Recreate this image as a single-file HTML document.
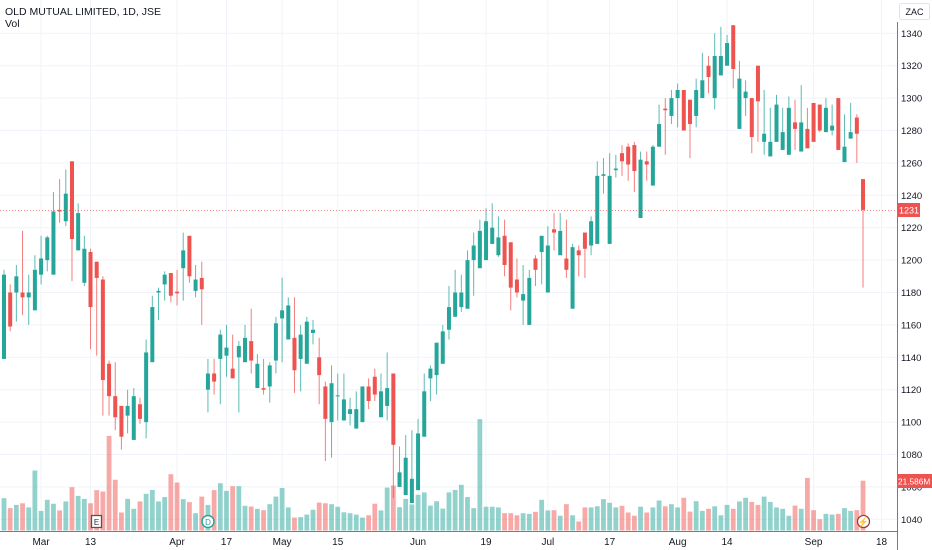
<!DOCTYPE html>
<html><head><meta charset="utf-8">
<style>
body{margin:0;background:#fff;font-family:"Liberation Sans",sans-serif;}
#wrap{position:relative;width:932px;height:550px;overflow:hidden;}
svg text{font-family:"Liberation Sans",sans-serif;}
</style></head>
<body>
<div id="wrap">
<svg id="chart" width="932" height="550" xmlns="http://www.w3.org/2000/svg">
  <g id="grid"></g>
  <g id="vol"></g>
  <g id="candles"></g>
  <line x1="0" x2="897" y1="210.5" y2="210.5" stroke="#ef5350" stroke-width="1" stroke-dasharray="1,2" opacity="0.7"/>
  <rect x="897" y="0" width="35" height="550" fill="#fff"/>
  <line x1="897.5" x2="897.5" y1="22" y2="550" stroke="#787b86" stroke-width="1"/>
  <line x1="0" x2="897" y1="531.5" y2="531.5" stroke="#787b86" stroke-width="1"/>
  <g id="yaxis"></g>
  <g id="xaxis"></g>
  <rect x="899.5" y="3.5" width="30" height="16" rx="2" fill="#fff" stroke="#e0e3eb"/>
  <text x="914.5" y="15" font-size="9" text-anchor="middle" fill="#131722">ZAC</text>
  <rect x="897" y="203" width="23" height="14" fill="#ef5350"/>
  <text x="899" y="213.5" font-size="9" fill="#fff">1231</text>
  <rect x="897" y="474" width="35" height="14" fill="#ef5350"/>
  <text x="898" y="484.5" font-size="8.3" fill="#fff">21.586M</text>
  <text x="5" y="15" font-size="10.5" fill="#131722">OLD MUTUAL LIMITED, 1D, JSE</text>
  <text x="5" y="27" font-size="10.5" fill="#131722">Vol</text>
  <g>
    <rect x="91.5" y="515.5" width="10" height="12" fill="#fff" stroke="#555" stroke-width="1.3"/>
    <text x="96.5" y="525" font-size="8" text-anchor="middle" fill="#333">E</text>
  </g>
  <g>
    <circle cx="208" cy="521.5" r="6" fill="#fff" stroke="#26a69a" stroke-width="1.5"/>
    <text x="208" y="525" font-size="8" text-anchor="middle" fill="#26a69a">D</text>
  </g>
  <g>
    <circle cx="863.5" cy="521.5" r="6" fill="#fff" stroke="#9c3c3a" stroke-width="1.3"/>
    <text x="863.5" y="525" font-size="9" text-anchor="middle" fill="#9c3c3a">⚡</text>
  </g>
</svg>
</div>
<script>
const opens=[1139,1180,1180,1180,1177,1169,1191,1200,1191,1231,1224,1261,1206,1186,1205,1199,1188,1136,1116,1110,1104,1089,1111,1100,1137,1180,1185,1192,1180.5,1195,1215,1181,1189,1120,1130,1139,1141,1133,1140,1137,1150,1121,1121,1122,1138,1164,1151,1152,1139,1136,1155,1140,1122,1100,1116,1101,1105,1096,1100,1122,1128,1103,1110,1130,1060,1055,1050,1058,1091,1127,1129,1136,1157,1165,1171,1170,1200,1195,1200,1210,1203,1215,1211,1188,1175,1160,1201,1205,1180,1219,1203,1201,1170,1206,1217,1209,1210,1252,1210,1255.5,1266,1270,1271,1226,1261,1246,1270,1293.5,1289,1300,1305,1299,1289,1300,1320,1300,1314,1320,1345,1281,1300,1300,1320,1273,1264,1273,1268,1265,1285,1267,1281,1297,1296,1279,1280,1300,1260.5,1275,1288,1250];
const highs=[1194,1185,1197,1218,1191,1203,1215,1215,1242,1250,1256,1261,1235,1215,1207,1199,1190,1138,1137,1110,1120,1121,1115,1151,1178,1183,1193,1192,1194,1217,1215,1197,1199,1139,1139,1157,1160,1154,1150,1160,1170,1142,1139,1137,1165,1189,1177,1177,1160,1165,1163,1152,1125,1135,1130,1130,1115,1119,1122,1127,1133,1130,1143,1130,1085,1092,1095,1102,1130,1135,1149,1160,1184,1194,1191,1206,1217,1225,1232,1235,1227,1225,1211,1201,1197,1194,1203,1215,1221,1229,1229,1225,1210,1209,1217,1227,1261,1263,1266,1265,1271,1272,1273,1267,1267,1271,1296,1300,1305,1309,1305,1299,1312,1328,1326,1340,1344,1339,1345,1323,1311,1300,1320,1305,1294,1302,1294,1301,1299,1308,1294,1297,1296,1300,1296,1300,1290,1297,1290,1250];
const lows=[1139,1156,1162,1166,1160,1169,1185,1193,1191,1223,1221,1187,1206,1184,1145,1141,1104,1104,1095,1083,1093,1089,1099,1090,1137,1163,1175,1174,1172,1175,1186,1177,1160,1106,1117,1111,1128,1127,1106,1137,1130,1121,1117,1112,1130,1137,1151,1118,1119,1136,1148,1111,1076,1078,1101,1101,1098,1096,1100,1108,1113,1103,1101,1053,1060,1055,1050,1058,1091,1113,1117,1136,1151,1165,1168,1170,1178,1195,1200,1210,1202,1190,1169,1177,1160,1160,1184,1185,1180,1206,1203,1189,1170,1190,1189,1203,1210,1241,1210,1251,1252,1249,1242,1226,1249,1246,1270,1265,1284,1282,1280,1263,1282,1300,1303,1293,1314,1320,1306,1281,1289,1266,1273,1265,1264,1273,1268,1265,1268,1267,1269,1273,1279,1279,1277,1268,1260.5,1275,1260,1183];
const closes=[1191,1159,1190,1177,1180,1194,1201,1214,1230,1230,1241,1213,1229,1207,1171,1189,1126,1116,1103,1091,1110,1116,1102,1143,1171,1181,1191,1178,1179.5,1206,1190,1188,1182,1130,1125,1154,1146,1127,1147,1152,1138,1136,1120,1135,1161,1169,1172,1132,1154,1162,1157,1129,1102,1124,1116.5,1114,1108,1108,1122,1113,1117,1119,1121,1086,1069,1078,1065,1093,1119,1133,1149,1156,1171,1180,1180,1200,1209,1218,1224,1220,1214,1197,1183,1180,1179,1189,1194,1215,1209,1217,1218,1194,1208,1203,1207,1224,1252,1253,1252,1256.5,1261,1259,1255,1262,1259,1270,1284,1292.5,1300,1305,1280,1284,1305,1311,1313,1326,1326,1334,1318,1312,1304,1276,1298,1278,1273,1296,1279,1294,1281,1285,1269,1273,1280,1294,1283,1268,1270,1279,1278,1231];
const volumes=[14.0,9.7,11.1,11.8,10.0,26.0,8.5,13.3,11.6,8.7,12.6,18.8,15.0,13.7,11.8,17.5,16.9,41.0,22.0,7.8,13.7,9.4,12.6,15.9,17.6,12.6,14.5,24.4,20.8,13.6,12.3,7.5,14.7,11.1,17.5,20.5,17.2,19.2,19.2,10.7,10.4,9.4,8.8,11.4,14.7,18.4,10.0,5.6,5.8,6.9,9.0,12.1,11.8,11.4,10.3,7.9,7.5,6.9,5.6,6.6,11.6,8.7,18.6,19.5,10.1,13.7,11.3,15.5,16.5,10.8,12.7,9.5,16.5,17.6,19.8,14.5,9.7,48.3,10.3,10.3,10.0,7.5,7.5,6.6,7.5,7.2,8.1,13.3,8.7,8.8,6.4,11.4,6.6,3.9,10.0,10.0,10.5,13.6,12.0,10.0,10.7,7.8,6.4,10.3,7.8,10.0,13.0,10.5,11.4,10.0,14.2,8.2,12.7,8.5,9.4,10.5,6.6,11.1,9.4,12.6,14.2,12.4,11.1,14.7,12.4,10.0,9.4,6.4,10.8,9.4,22.8,8.8,4.9,7.2,6.9,7.2,9.7,8.5,8.8,21.586];
const priceTicks=[1040,1060,1080,1100,1120,1140,1160,1180,1200,1220,1240,1260,1280,1300,1320,1340];
const timeLabels=["Mar","13","Apr","17","May","15","Jun","19","Jul","17","Aug","14","Sep","18"];
const timeLabelIdx=[6,14,28,36,45,54,67,78,88,98,109,117,131,142];

const NS="http://www.w3.org/2000/svg";
const GREEN="#26a69a", RED="#ef5350";
function yP(p){return 33.3+(1340-p)*1.62;}
function xI(i){return 4+i*6.18;}
function yV(v){return 530.5-v*2.307;}
function mk(tag,attrs,parent){const e=document.createElementNS(NS,tag);for(const k in attrs)e.setAttribute(k,attrs[k]);parent.appendChild(e);return e;}

const grid=document.getElementById('grid');
priceTicks.forEach(p=>{
  const l=mk('line',{x1:0,x2:897,y1:yP(p),y2:yP(p),stroke:'#f0f3fa','stroke-width':1},grid);
  
  
});
timeLabelIdx.forEach(i=>{
  const l=mk('line',{x1:xI(i),x2:xI(i),y1:0,y2:531,stroke:'#f0f3fa','stroke-width':1},grid);
  
  
});

const yaxis=document.getElementById('yaxis');
priceTicks.forEach(p=>{
  const t=mk('text',{x:901,y:yP(p)+3.5,'font-size':9.5,fill:'#131722'},yaxis);
  t.textContent=p;
  
  
});
const xaxis=document.getElementById('xaxis');
timeLabels.forEach((s,k)=>{
  const t=mk('text',{x:xI(timeLabelIdx[k]),y:545,'font-size':10,fill:'#131722','text-anchor':'middle'},xaxis);
  t.textContent=s;
  
  
});

const vol=document.getElementById('vol');
const cg=document.getElementById('candles');
for(let i=0;i<opens.length;i++){
  const up=closes[i]>=opens[i];
  const col=up?GREEN:RED;
  const x=xI(i);
  const vy=yV(volumes[i]);
  const vb=mk('rect',{x:x-2.4,y:vy,width:4.8,height:530.5-vy,fill:col,opacity:0.5},vol);
  
  
  const w=mk('line',{x1:x,x2:x,y1:yP(highs[i]),y2:yP(lows[i]),stroke:col,'stroke-width':1,opacity:0.75},cg);
  
  
  const top=yP(Math.max(opens[i],closes[i])), bot=yP(Math.min(opens[i],closes[i]));
  const b=mk('rect',{x:x-2,y:top,width:4,height:Math.max(1,bot-top),fill:col},cg);
  
  
}
</script>
</body></html>
